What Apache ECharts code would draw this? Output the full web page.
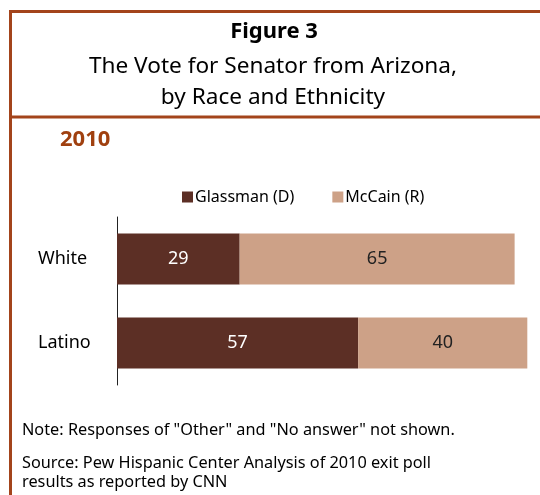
<!DOCTYPE html>
<html>
<head>
<meta charset="utf-8">
<script src="https://cdn.jsdelivr.net/npm/echarts@6/dist/echarts.min.js"></script>
<style>html,body{margin:0;padding:0;background:#fff;}#c{width:540px;height:495px;}</style>
</head>
<body>
<div id="c"></div>
<script>
const categories = ['White', 'Latino'];
const seriesNames = ['Glassman (D)', 'McCain (R)'];
const glassman = [29, 57];
const mccain = [65, 40];

const FONT = 'Noto Sans';
const BORDER = '#A3441B';
const chart = echarts.init(document.getElementById('c'));
chart.setOption({
  animation: false,
  backgroundColor: '#fff',
  textStyle: { fontFamily: FONT },
  graphic: [
    { type: 'line', shape: { x1: 10.5, y1: 10, x2: 10.5, y2: 495 }, style: { stroke: BORDER, lineWidth: 3 } },
    { type: 'line', shape: { x1: 9, y1: 11.5, x2: 540, y2: 11.5 }, style: { stroke: BORDER, lineWidth: 3 } },
    { type: 'line', shape: { x1: 9, y1: 117, x2: 540, y2: 117 }, style: { stroke: BORDER, lineWidth: 3 } },
    { type: 'text', x: 274, y: 32, style: { text: 'Figure 3', font: 'bold 22px ' + FONT, fill: '#000', textAlign: 'center', textVerticalAlign: 'middle' } },
    { type: 'text', x: 273, y: 67, style: { text: 'The Vote for Senator from Arizona,', font: '22.6px ' + FONT, fill: '#000', textAlign: 'center', textVerticalAlign: 'middle' } },
    { type: 'text', x: 273, y: 98, style: { text: 'by Race and Ethnicity', font: '22.6px ' + FONT, fill: '#000', textAlign: 'center', textVerticalAlign: 'middle' } },
    { type: 'text', x: 60, y: 140, style: { text: '2010', font: 'bold 22px ' + FONT, fill: '#A0400F', textVerticalAlign: 'middle' } },
    { type: 'text', x: 22, y: 430, style: { text: 'Note: Responses of "Other" and "No answer" not shown.', font: '16.3px ' + FONT, fill: '#000', textVerticalAlign: 'middle' } },
    { type: 'text', x: 22, y: 463, style: { text: 'Source: Pew Hispanic Center Analysis of 2010 exit poll', font: '16.3px ' + FONT, fill: '#000', textVerticalAlign: 'middle' } },
    { type: 'text', x: 22, y: 482, style: { text: 'results as reported by CNN', font: '16.3px ' + FONT, fill: '#000', textVerticalAlign: 'middle' } }
  ],
  legend: {
    data: seriesNames,
    left: 177, top: 184,
    icon: 'rect', itemWidth: 11, itemHeight: 11, itemGap: 38,
    textStyle: { fontSize: 16, color: '#000', fontFamily: FONT, padding: [0, 0, 0, -3] }
  },
  grid: { left: 117, top: 217, width: 424, height: 168, containLabel: false },
  xAxis: { type: 'value', min: 0, max: 100, show: false },
  yAxis: {
    type: 'category', data: categories, inverse: true,
    axisLine: { show: true, lineStyle: { color: '#222', width: 1 } },
    axisTick: { show: false },
    axisLabel: { align: 'left', margin: 79, fontSize: 18, color: '#000', fontFamily: FONT }
  },
  series: [
    { name: seriesNames[0], type: 'bar', stack: 'v', data: glassman, barWidth: 51,
      itemStyle: { color: '#5C2F25' },
      label: { show: true, position: 'inside', color: '#fff', fontSize: 18, fontFamily: FONT } },
    { name: seriesNames[1], type: 'bar', stack: 'v', data: mccain, barWidth: 51,
      itemStyle: { color: '#CDA187' },
      label: { show: true, position: 'inside', color: '#222', fontSize: 18, fontFamily: FONT } }
  ]
});
</script>
</body>
</html>
